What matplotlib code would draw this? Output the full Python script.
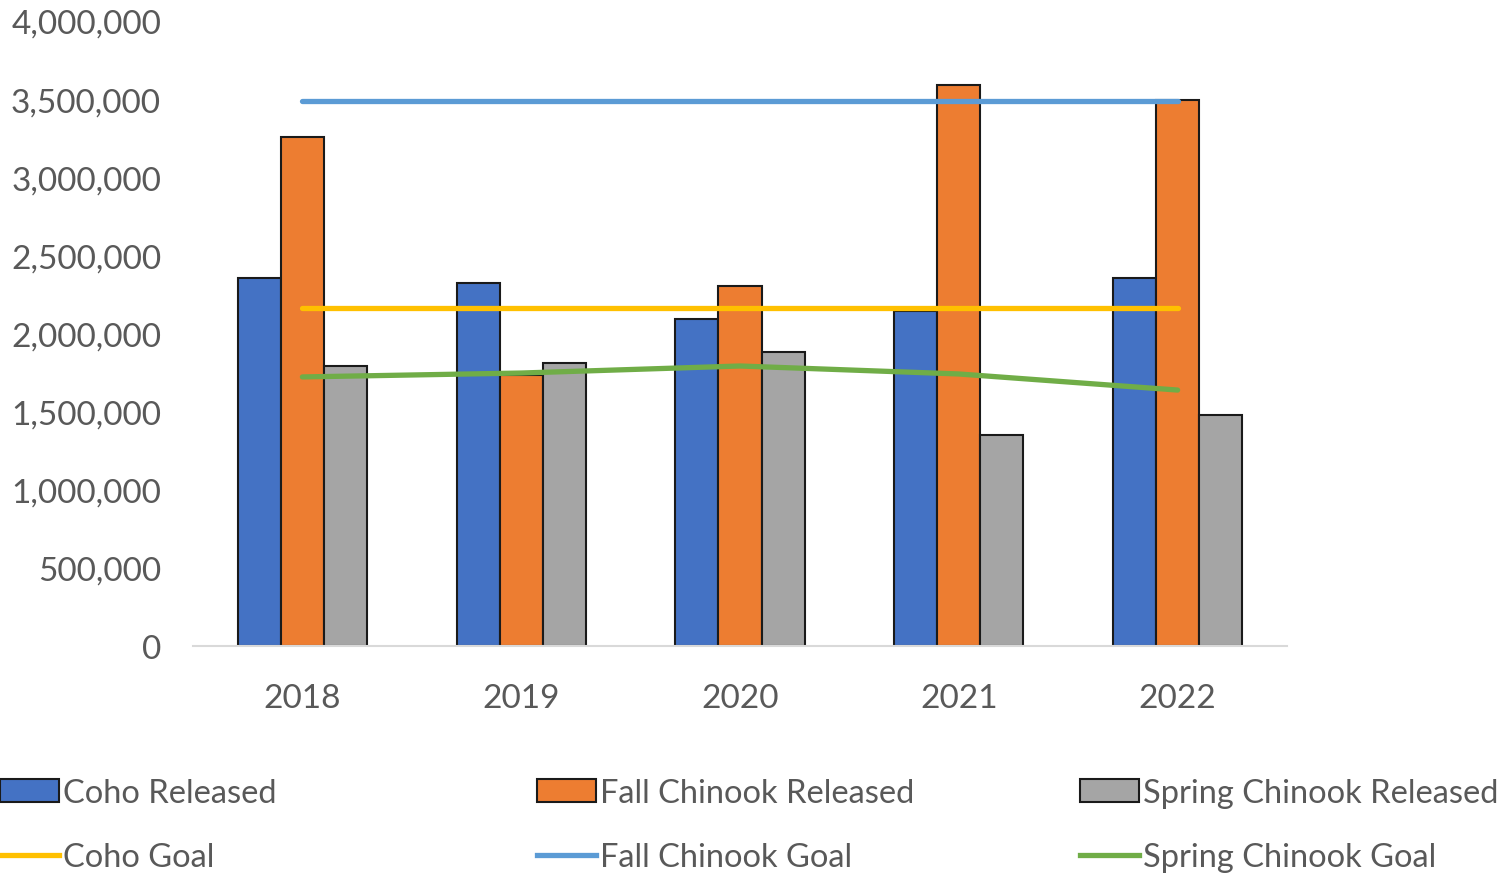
import matplotlib
matplotlib.use("Agg")
import matplotlib.pyplot as plt
import numpy as np
from matplotlib.patches import Patch
from matplotlib.lines import Line2D
from matplotlib.ticker import FuncFormatter

years = ["2018", "2019", "2020", "2021", "2022"]
coho_released = [2355000, 2323000, 2093000, 2144000, 2355000]
fall_released = [3258000, 1735000, 2304000, 3590000, 3494000]
spring_released = [1792000, 1811000, 1882000, 1350000, 1478000]
coho_goal = [2163000, 2163000, 2163000, 2163000, 2163000]
fall_goal = [3485000, 3485000, 3485000, 3485000, 3485000]
spring_goal = [1722000, 1747000, 1792000, 1741000, 1638000]

plt.rcParams['font.family'] = ['Lato', 'DejaVu Sans']
TXT = '#595959'
C_BLUE, C_ORANGE, C_GRAY = '#4472C4', '#ED7D31', '#A5A5A5'
C_YEL, C_LBLUE, C_GREEN = '#FFC000', '#5B9BD5', '#70AD47'

fig = plt.figure(figsize=(15.11, 8.78), dpi=100)
ax = fig.add_axes([193/1511, (878-647)/878, (1287-193)/1511, (647-22)/878])

x = np.arange(len(years))
w = 0.197
ec = '#1a1a1a'
ax.bar(x - w, coho_released, w, color=C_BLUE, edgecolor=ec, linewidth=1.5, zorder=2)
ax.bar(x, fall_released, w, color=C_ORANGE, edgecolor=ec, linewidth=1.5, zorder=2)
ax.bar(x + w, spring_released, w, color=C_GRAY, edgecolor=ec, linewidth=1.5, zorder=2)

lw = 3.8
ax.plot(x, coho_goal, color=C_YEL, lw=lw, zorder=3, solid_capstyle='round')
ax.plot(x, fall_goal, color=C_LBLUE, lw=lw, zorder=3, solid_capstyle='round')
ax.plot(x, spring_goal, color=C_GREEN, lw=lw, zorder=3, solid_capstyle='round')

ax.set_xlim(-0.5, 4.5)
ax.set_ylim(0, 4000000)
ax.set_yticks(np.arange(0, 4000001, 500000))
ax.yaxis.set_major_formatter(FuncFormatter(lambda v, p: f"{int(v):,}"))
ax.set_xticks(x)
ax.set_xticklabels(years)
for s in ['top', 'right', 'left']:
    ax.spines[s].set_visible(False)
ax.spines['bottom'].set_color('#d9d9d9')
ax.spines['bottom'].set_linewidth(1.5)
ax.tick_params(axis='y', length=0, pad=23, labelsize=24, labelcolor=TXT)
ax.tick_params(axis='x', length=0, pad=27, labelsize=24, labelcolor=TXT)

legend_kw = dict(loc='upper left', frameon=False, fontsize=23.5, labelcolor=TXT,
                 handlelength=1.8, handleheight=0.7, handletextpad=0.12,
                 borderaxespad=0, borderpad=0, labelspacing=1.05)
cols = [
    (0/1511, [Patch(facecolor=C_BLUE, edgecolor=ec, linewidth=1.5), Line2D([], [], color=C_YEL, lw=lw)],
     ["Coho Released", "Coho Goal"]),
    (537/1511, [Patch(facecolor=C_ORANGE, edgecolor=ec, linewidth=1.5), Line2D([], [], color=C_LBLUE, lw=lw)],
     ["Fall Chinook Released", "Fall Chinook Goal"]),
    (1080/1511, [Patch(facecolor=C_GRAY, edgecolor=ec, linewidth=1.5), Line2D([], [], color=C_GREEN, lw=lw)],
     ["Spring Chinook Released", "Spring Chinook Goal"]),
]
for xpos, handles, labels in cols:
    lg = fig.legend(handles, labels, bbox_to_anchor=(xpos, (878-779)/878), **legend_kw)

fig.savefig("out.png", dpi=100)
